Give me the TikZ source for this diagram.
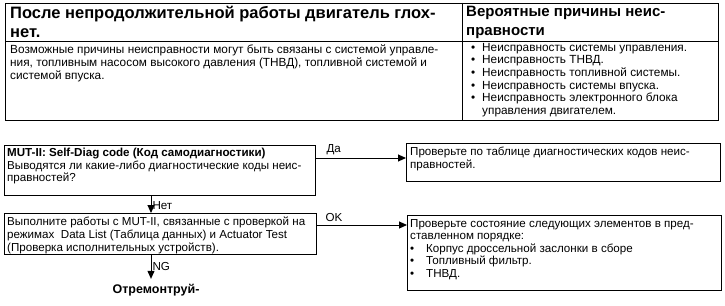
\documentclass[tikz,border=0pt]{standalone}
\usepackage{fontspec}
\setmainfont{Liberation Sans}
\usetikzlibrary{arrows.meta,calc}
\begin{document}
\begin{tikzpicture}[x=1pt,y=-1pt,
  frame/.style={draw, line width=1pt, inner sep=0pt, anchor=north west},
  hdr/.style={anchor=north west, inner sep=0pt, align=left, font=\bfseries\fontsize{16.5}{19}\selectfont},
  hdrb/.style={anchor=north west, inner sep=0pt, align=left, font=\bfseries\fontsize{15}{19}\selectfont},
  body/.style={anchor=north west, inner sep=0pt, align=left, font=\fontsize{11.8}{12.6}\selectfont},
  txt/.style={anchor=north west, inner sep=0pt, align=left, font=\fontsize{11.6}{12.6}\selectfont},
  arr/.style={line width=1pt, -{Triangle[length=8pt,width=7pt]}},
  lbl/.style={font=\fontsize{11.6}{12}\selectfont, inner sep=1pt}
]
\useasboundingbox (0,0) rectangle (725,305);
% top table
\node[frame, minimum width=713pt, minimum height=117pt] (tab) at (5,3) {};
\coordinate (hl) at (5,41);
\coordinate (cd) at (462,3);
\draw[line width=0.8pt] (hl) -- (hl -| tab.east);
\draw[line width=0.8pt] (cd) -- (cd |- tab.south);
\node[hdr] (h1) at (10,6) {После непродолжительной работы двигатель глох-\\нет.};
\node[hdrb] (h2) at (466,6) {Вероятные причины неис-\\правности};
\node[body] (b1) at (10,45) {Возможные причины неисправности могут быть связаны с системой управле-\\ния, топливным насосом высокого давления (ТНВД), топливной системой и\\системой впуска.};
\node[body] (b2) at (471,43) {\makebox[11pt][l]{•}Неисправность системы управления.\\
\makebox[11pt][l]{•}Неисправность ТНВД.\\
\makebox[11pt][l]{•}Неисправность топливной системы.\\
\makebox[11pt][l]{•}Неисправность системы впуска.\\
\makebox[11pt][l]{•}Неисправность электронного блока\\
\hspace*{11pt}управления двигателем.};
% flow
\node[frame, minimum width=311pt, minimum height=50pt] (q1) at (4,145) {};
\node[txt] (q1t) at ([shift={(3pt,-3pt)}]q1.north west) {\textbf{MUT-II: Self-Diag code (Код самодиагностики)}\\Выводятся ли какие-либо диагностические коды неис-\\правностей?};
\node[frame, minimum width=314pt, minimum height=38pt] (r1) at (406,143) {};
\node[txt] (r1t) at ([shift={(4pt,-4pt)}]r1.north west) {Проверьте по таблице диагностических кодов неис-\\правностей.};
\node[frame, minimum width=312pt, minimum height=41pt] (q2) at (4,213) {};
\node[txt] (q2t) at ([shift={(3pt,-4pt)}]q2.north west) {Выполните работы с MUT-II, связанные с проверкой на\\режимах\ \ Data List (Таблица данных) и Actuator Test\\(Проверка исполнительных устройств).};
\node[frame, minimum width=314pt, minimum height=75pt] (r2) at (407,215) {};
\node[txt] (r2t) at ([shift={(3pt,-4pt)}]r2.north west) {Проверьте состояние следующих элементов в пред-\\ставленном порядке:\\
\makebox[16pt][l]{•}Корпус дроссельной заслонки в сборе\\
\makebox[16pt][l]{•}Топливный фильтр.\\
\makebox[16pt][l]{•}ТНВД.};
\node[inner sep=0pt, font=\bfseries\fontsize{12.5}{14}\selectfont] (fix) at (156,290) {Отремонтруй-};
\coordinate (vx) at (151,0);
\draw[arr] ([yshift=-13pt]q1.north east) -- ([yshift=-13pt]q1.north east -| r1.west)
  node[lbl, pos=0.1, anchor=south west, yshift=2pt] {Да};
\draw[arr] ([yshift=-12pt]q2.north east) -- ([yshift=-12pt]q2.north east -| r2.west)
  node[lbl, pos=0.08, anchor=south west, yshift=2pt] {OK};
\draw[arr] (q1.south -| vx) -- (q2.north -| vx) node[lbl, pos=0.55, anchor=west] {Нет};
\draw[arr] (q2.south -| vx) -- ([yshift=5pt]fix.north -| vx) node[lbl, pos=0.5, anchor=west] {NG};
\end{tikzpicture}
\end{document}
